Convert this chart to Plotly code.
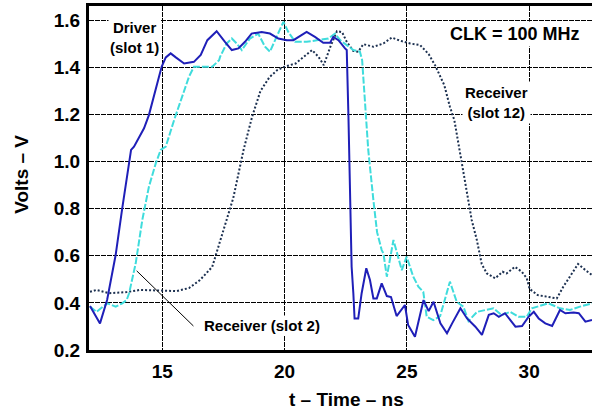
import plotly.graph_objects as go

# Driver (slot 1)
drv_t = [12.04, 12.45, 12.74, 13.09, 13.36, 13.64, 13.72, 13.84, 14.25, 14.45, 14.73, 14.97, 15.14, 15.34,
         15.55, 15.89, 16.29, 16.57, 16.84, 17.22, 17.56, 17.84, 18.11, 18.38, 18.65, 19.06, 19.40, 19.74,
         20.09, 20.36, 20.90, 21.24, 21.58, 21.86, 21.99, 22.20, 22.47, 22.54, 22.61, 22.67, 22.74, 22.81,
         22.86, 23.01, 23.15, 23.34, 23.49, 23.63, 23.77, 23.97, 24.18, 24.35, 24.58, 24.92, 25.05, 25.33,
         25.68, 25.89, 26.09, 26.37, 26.64, 26.85, 27.19, 27.46, 27.80, 28.07, 28.35, 28.55, 28.76, 29.01,
         29.44, 29.71, 29.98, 30.19, 30.39, 30.66, 30.94, 31.26, 31.48, 31.82, 32.03, 32.30, 32.57]
drv_v = [0.387, 0.313, 0.412, 0.603, 0.802, 0.999, 1.049, 1.063, 1.141, 1.197, 1.303, 1.402, 1.442, 1.459,
         1.442, 1.416, 1.423, 1.452, 1.515, 1.553, 1.508, 1.473, 1.480, 1.508, 1.543, 1.550, 1.543, 1.522,
         1.515, 1.515, 1.550, 1.529, 1.504, 1.504, 1.529, 1.515, 1.480, 1.473, 1.190, 0.836, 0.553, 0.441,
         0.334, 0.334, 0.441, 0.547, 0.497, 0.419, 0.419, 0.483, 0.429, 0.425, 0.344, 0.391, 0.306, 0.256,
         0.412, 0.365, 0.405, 0.313, 0.271, 0.313, 0.377, 0.334, 0.299, 0.264, 0.349, 0.356, 0.341, 0.356,
         0.299, 0.302, 0.341, 0.362, 0.334, 0.313, 0.302, 0.370, 0.356, 0.359, 0.356, 0.320, 0.327]

# Receiver (slot 2)
rx2_t = [12.04, 12.31, 12.45, 12.75, 13.09, 13.36, 13.54, 13.64, 13.91, 14.18, 14.45, 14.73, 14.93, 15.14,
         15.48, 15.82, 16.09, 16.29, 16.70, 17.04, 17.32, 17.36, 17.63, 17.84, 18.04, 18.25, 18.58, 18.92,
         19.20, 19.40, 19.61, 19.95, 20.15, 20.43, 20.90, 21.45, 21.79, 22.06, 22.27, 22.54, 22.81, 23.08,
         23.17, 23.29, 23.42, 23.63, 23.78, 23.97, 24.04, 24.18, 24.45, 24.79, 24.99, 25.26, 25.47, 25.67,
         25.81, 26.08, 26.36, 26.76, 27.04, 27.31, 27.52, 27.87, 28.21, 28.54, 28.88, 29.22, 29.56, 29.90,
         30.11, 30.79, 31.26, 31.67, 32.08, 32.57]
rx2_v = [0.384, 0.362, 0.374, 0.398, 0.384, 0.398, 0.412, 0.441, 0.568, 0.752, 0.893, 0.992, 1.049, 1.063,
         1.176, 1.275, 1.360, 1.402, 1.402, 1.402, 1.430, 1.444, 1.501, 1.522, 1.501, 1.473, 1.522, 1.543,
         1.487, 1.466, 1.515, 1.593, 1.550, 1.508, 1.508, 1.515, 1.522, 1.543, 1.515, 1.494, 1.473, 1.466,
         1.430, 1.247, 1.049, 0.836, 0.700, 0.624, 0.610, 0.511, 0.667, 0.539, 0.596, 0.511, 0.469, 0.447,
         0.341, 0.327, 0.344, 0.490, 0.404, 0.384, 0.323, 0.362, 0.370, 0.377, 0.348, 0.362, 0.341, 0.341,
         0.377, 0.398, 0.377, 0.370, 0.384, 0.398]

# Receiver (slot 12)
rx12_t = [12.04, 12.31, 12.82, 13.55, 14.09, 14.90, 15.59, 16.09, 16.54, 17.04, 17.32, 17.56, 17.90, 18.32,
          18.67, 19.01, 19.38, 19.70, 19.99, 20.45, 20.81, 21.12, 21.39, 21.60, 21.87, 22.14, 22.35, 22.54,
          22.81, 23.01, 23.22, 23.63, 24.04, 24.38, 24.72, 25.13, 25.54, 25.89, 26.16, 26.53, 26.76, 26.94,
          27.19, 27.46, 27.65, 27.86, 28.06, 28.27, 28.61, 28.91, 29.08, 29.42, 29.70, 29.90, 30.02, 30.35,
          30.72, 31.13, 31.40, 31.74, 32.00, 32.30, 32.57]
rx12_v = [0.447, 0.455, 0.441, 0.446, 0.455, 0.452, 0.450, 0.463, 0.497, 0.553, 0.645, 0.723, 0.845, 1.049,
          1.190, 1.299, 1.358, 1.388, 1.402, 1.416, 1.447, 1.473, 1.444, 1.409, 1.487, 1.553, 1.549, 1.508,
          1.469, 1.466, 1.498, 1.487, 1.501, 1.526, 1.513, 1.501, 1.494, 1.456, 1.407, 1.324, 1.232, 1.176,
          1.027, 0.865, 0.752, 0.667, 0.565, 0.525, 0.504, 0.532, 0.525, 0.553, 0.532, 0.505, 0.459, 0.433,
          0.426, 0.419, 0.469, 0.525, 0.565, 0.539, 0.518]

x_ticks = [15, 20, 25, 30]
y_ticks = [0.2, 0.4, 0.6, 0.8, 1.0, 1.2, 1.4, 1.6]
y_tick_text = ["0.2", "0.4", "0.6", "0.8", "1.0", "1.2", "1.4", "1.6"]

FONT = "Arial, Liberation Sans, sans-serif"

fig = go.Figure()
fig.add_trace(go.Scatter(x=rx12_t, y=rx12_v, mode="lines",
                         line=dict(color="#1c3050", width=2, dash="2px,2px")))
fig.add_trace(go.Scatter(x=rx2_t, y=rx2_v, mode="lines",
                         line=dict(color="#3fdcdc", width=2, dash="7px,2px")))
fig.add_trace(go.Scatter(x=drv_t, y=drv_v, mode="lines",
                         line=dict(color="#1f1fb8", width=2)))

fig.update_layout(
    width=592, height=413,
    margin=dict(l=89, r=0, t=6, b=63),
    paper_bgcolor="white", plot_bgcolor="white",
    showlegend=False,
    font=dict(family=FONT, color="black"),
)
fig.update_xaxes(range=[12, 32.57], tickvals=x_ticks, showgrid=True, gridcolor="black", gridwidth=1,
                 griddash="5px,1px",
                 showline=True, linecolor="black", linewidth=3, mirror=True,
                 ticks="outside", ticklen=2, tickcolor="rgba(0,0,0,0)",
                 tickfont=dict(size=19, weight="bold", family=FONT), zeroline=False)
fig.update_yaxes(range=[0.2, 1.66], tickvals=y_ticks, ticktext=y_tick_text, showgrid=True,
                 gridcolor="black", gridwidth=1, griddash="5px,1px",
                 showline=True, linecolor="black", linewidth=3, mirror=False,
                 ticks="outside", ticklen=2, tickcolor="rgba(0,0,0,0)",
                 tickfont=dict(size=19, weight="bold", family=FONT), zeroline=False)

fig.add_shape(type="line", x0=13.95, y0=0.536, x1=16.27, y1=0.302,
              line=dict(color="black", width=1))

ann_font = dict(family=FONT, size=15, color="black", weight="bold")
fig.add_annotation(x=13.88, y=1.528, text="Driver<br>(slot 1)", showarrow=False,
                   font=ann_font, bgcolor="white", borderpad=1)
fig.add_annotation(x=28.65, y=1.252, text="Receiver<br>(slot 12)", showarrow=False,
                   font=ann_font, bgcolor="white", borderpad=2)
fig.add_annotation(x=19.08, y=0.302, text="Receiver (slot 2)", showarrow=False,
                   font=ann_font, bgcolor="white", borderpad=1)
fig.add_annotation(x=29.44, y=1.54, text="CLK = 100 MHz", showarrow=False,
                   font=dict(family=FONT, size=18, color="black", weight="bold"),
                   bgcolor="white", borderpad=2)

fig.add_annotation(xref="paper", yref="paper", x=0.511, y=-0.145, text="t – Time – ns",
                   showarrow=False, xanchor="center", yanchor="middle",
                   font=dict(family=FONT, size=19, color="black", weight="bold"))
fig.add_annotation(xref="paper", yref="paper", x=-0.134, y=0.511, text="Volts – V",
                   showarrow=False, textangle=-90, xanchor="center", yanchor="middle",
                   font=dict(family=FONT, size=19, color="black", weight="bold"))

fig.write_html("out.html", config={"displayModeBar": False},
               post_script="document.body.style.margin='0px';document.body.style.overflow='hidden';")
